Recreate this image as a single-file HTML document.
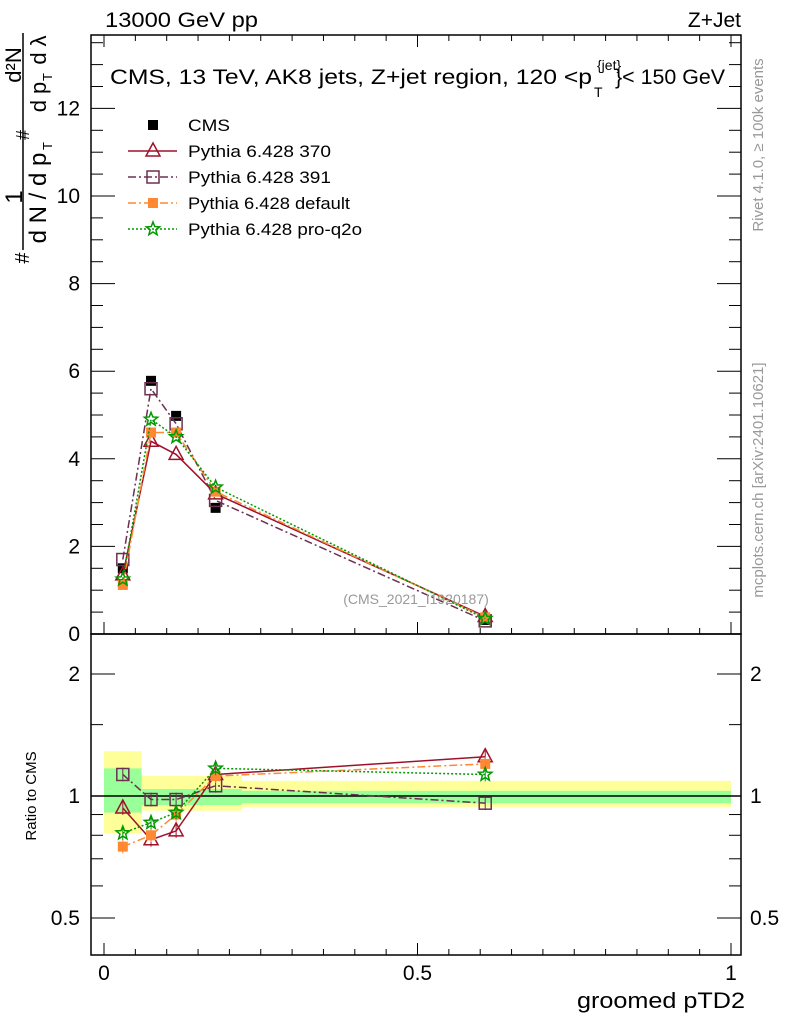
<!DOCTYPE html>
<html><head><meta charset="utf-8"><style>
body{margin:0;background:#fff;}
svg{display:block;font-family:"Liberation Sans",Arial,sans-serif;}
</style></head><body>
<svg id="c" width="786" height="1024" xmlns="http://www.w3.org/2000/svg"></svg>
<script>
const xs = [0.030, 0.075, 0.115, 0.178, 0.608];
const binEdges = [0, 0.06, 0.22, 1.0];
const statBand = [[0.91,1.17],[0.95,1.04],[0.96,1.03]];
const totBand = [[0.81,1.29],[0.92,1.12],[0.94,1.09]];
const cms = [1.5, 5.78, 4.98, 2.88, 0.32];
const p370 = [1.35, 4.4, 4.1, 3.2, 0.4];
const p391 = [1.7, 5.6, 4.8, 3.05, 0.3];
const pdef = [1.12, 4.6, 4.6, 3.25, 0.38];
const pq2o = [1.25, 4.9, 4.5, 3.35, 0.35];
const r370 = [0.934, 0.78, 0.82, 1.13, 1.25];
const r391 = [1.13, 0.98, 0.98, 1.06, 0.96];
const rdef = [0.75, 0.80, 0.90, 1.12, 1.20];
const rq2o = [0.81, 0.86, 0.91, 1.17, 1.13];
const mainTicks = [0,2,4,6,8,10,12];
const ratioTicks = [0.5,1,2];
const xTicks = [0,0.5,1];

const svg=document.getElementById('c');
const NS='http://www.w3.org/2000/svg';
function el(t,a,p){const e=document.createElementNS(NS,t);for(const k in a)e.setAttribute(k,a[k]);(p||svg).appendChild(e);return e;}
const L=91,R=741,T=35,MB=634,RB=955;
const X=v=>104+v*627;
const Y=v=>634-v*43.8;
const YR=v=>796-122*Math.log2(v);

for(let i=0;i<3;i++){
  const x0=X(binEdges[i]),x1=Math.min(X(binEdges[i+1]),X(1));
  let r=el('rect',{x:x0,y:YR(totBand[i][1]),width:x1-x0,height:YR(totBand[i][0])-YR(totBand[i][1]),fill:'#ffff99'});
  
  
  r=el('rect',{x:x0,y:YR(statBand[i][1]),width:x1-x0,height:YR(statBand[i][0])-YR(statBand[i][1]),fill:'#99ff99'});
  
  
}
el('line',{x1:L,x2:R,y1:YR(1),y2:YR(1),stroke:'#000','stroke-width':1.5});

el('rect',{x:L,y:T,width:R-L,height:MB-T,fill:'none',stroke:'#000','stroke-width':1.5});
el('rect',{x:L,y:MB,width:R-L,height:RB-MB,fill:'none',stroke:'#000','stroke-width':1.5});

for(let i=0;i<=20;i++){const v=i*0.05,x=X(v),len=i%10==0?12:6;
  el('line',{x1:x,x2:x,y1:RB,y2:RB-len,stroke:'#000'});
  el('line',{x1:x,x2:x,y1:MB,y2:MB-len,stroke:'#000'});
  el('line',{x1:x,x2:x,y1:T,y2:T+len,stroke:'#000'});
}
xTicks.forEach(v=>{const t=el('text',{x:X(v),y:980,'font-size':21,'text-anchor':'middle'});t.textContent=String(v);
  });
for(let i=0;i<=27;i++){const v=i*0.5,y=Y(v);if(y<T)continue;const len=i%4==0?24:12;
  el('line',{x1:L,x2:L+len,y1:y,y2:y,stroke:'#000'});el('line',{x1:R,x2:R-len,y1:y,y2:y,stroke:'#000'});}
mainTicks.forEach(v=>{const t=el('text',{x:80,y:Y(v)+7,'font-size':21,'text-anchor':'end'});t.textContent=String(v);
  });
[0.4,0.5,0.6,0.7,0.8,0.9,1,1.5,2].forEach(v=>{const y=YR(v);if(y>RB)return;const big=[0.5,1,2].includes(v);const len=big?24:12;
  el('line',{x1:L,x2:L+len,y1:y,y2:y,stroke:'#000'});el('line',{x1:R,x2:R-len,y1:y,y2:y,stroke:'#000'});});
ratioTicks.forEach(v=>{let t=el('text',{x:80,y:YR(v)+7,'font-size':21,'text-anchor':'end'});t.textContent=String(v);
  
  t=el('text',{x:750,y:YR(v)+7,'font-size':21});t.textContent=String(v);
  });

function marker(kind,x,y,col,g){
  if(kind=='tri')el('path',{d:`M${x},${y-8}L${x+7},${y+5}L${x-7},${y+5}Z`,fill:'none',stroke:col,'stroke-width':1.5},g);
  else if(kind=='osq')el('rect',{x:x-6,y:y-6,width:12,height:12,fill:'none',stroke:col,'stroke-width':1.5},g);
  else if(kind=='fsq')el('rect',{x:x-5,y:y-5,width:10,height:10,fill:col},g);
  else if(kind=='star'){let d='';for(let k=0;k<10;k++){const r=k%2?3:7,a=-Math.PI/2+k*Math.PI/5;d+=(k?'L':'M')+(x+r*Math.cos(a))+','+(y+r*Math.sin(a));}
    el('path',{d:d+'Z',fill:'none',stroke:col,'stroke-width':1.5},g);}
  else el('rect',{x:x-5,y:y-5,width:10,height:10,fill:col},g);
}
const series=[
 {n:'pythia-370',v:p370,r:r370,c:'#a0102a',dash:'',m:'tri'},
 {n:'pythia-391',v:p391,r:r391,c:'#6b3050',dash:'8,3,2,3',m:'osq'},
 {n:'pythia-default',v:pdef,r:rdef,c:'#ff8833',dash:'8,3,2,3',m:'fsq'},
 {n:'pythia-pro-q2o',v:pq2o,r:rq2o,c:'#009900',dash:'2,2',m:'star'}];
const gc=el('g',{});
xs.forEach((x,i)=>marker('cms',X(x),Y(cms[i]),'#000',gc));
series.forEach(s=>{
  const g=el('g',{});
  el('polyline',{points:xs.map((x,i)=>X(x)+','+Y(s.v[i])).join(' '),fill:'none',stroke:s.c,'stroke-width':1.5,'stroke-dasharray':s.dash},g);
  xs.forEach((x,i)=>marker(s.m,X(x),Y(s.v[i]),s.c,g));
  const g2=el('g',{});
  el('polyline',{points:xs.map((x,i)=>X(x)+','+YR(s.r[i])).join(' '),fill:'none',stroke:s.c,'stroke-width':1.5,'stroke-dasharray':s.dash},g2);
  xs.forEach((x,i)=>{el('line',{x1:X(x),x2:X(x),y1:YR(s.r[i]*1.04),y2:YR(s.r[i]/1.04),stroke:s.c},g2);marker(s.m,X(x),YR(s.r[i]),s.c,g2);});
});

const leg=[['CMS','cms','#000',''],['Pythia 6.428 370','tri','#a0102a',''],['Pythia 6.428 391','osq','#6b3050','8,3,2,3'],['Pythia 6.428 default','fsq','#ff8833','8,3,2,3'],['Pythia 6.428 pro-q2o','star','#009900','2,2']];
leg.forEach((l,i)=>{const y=125+i*26;const g=el('g',{});
  if(i>0)el('line',{x1:128,x2:177,y1:y,y2:y,stroke:l[2],'stroke-width':1.5,'stroke-dasharray':l[3]},g);
  marker(l[1],153,y,l[2],g);
  const t=el('text',{x:188,y:y+6,'font-size':17,textLength:[42,143,143,162,174][i],lengthAdjust:'spacingAndGlyphs'},g);t.textContent=l[0];});

function txt(s,a,name){const t=el('text',a);t.textContent=s;return t;}
txt('13000 GeV pp',{x:105,y:27,'font-size':21,textLength:153,lengthAdjust:'spacingAndGlyphs'},'header-left');
txt('Z+Jet',{x:741,y:27,'font-size':21,'text-anchor':'end'},'header-right');
const tg=el('g',{});
let t1=el('text',{x:110,y:84,'font-size':21,textLength:482,lengthAdjust:'spacingAndGlyphs'},tg);t1.textContent='CMS, 13 TeV, AK8 jets, Z+jet region, 120 <p';
t1=el('text',{x:597,y:70,'font-size':14},tg);t1.textContent='{jet}';
t1=el('text',{x:594,y:97,'font-size':14},tg);t1.textContent='T';
t1=el('text',{x:615,y:84,'font-size':21,textLength:110,lengthAdjust:'spacingAndGlyphs'},tg);t1.textContent='}< 150 GeV';
txt('(CMS_2021_I1920187)',{x:416,y:604,'font-size':14,fill:'#999','text-anchor':'middle'},'analysis-id');
txt('groomed pTD2',{x:745,y:1008,'font-size':22,'text-anchor':'end',textLength:168,lengthAdjust:'spacingAndGlyphs'},'x-axis-title');
txt('Ratio to CMS',{x:0,y:0,'font-size':15,'text-anchor':'middle',transform:'translate(36,796) rotate(-90)'},'ratio-axis-title');
txt('Rivet 4.1.0, ≥ 100k events',{x:0,y:0,'font-size':15,fill:'#999','text-anchor':'middle',transform:'translate(763,145) rotate(-90)'},'rivet-label');
txt('mcplots.cern.ch [arXiv:2401.10621]',{x:0,y:0,'font-size':15,fill:'#999','text-anchor':'middle',transform:'translate(763,480) rotate(-90)'},'mcplots-label');
const yg=el('g',{});
function rt(s,x,y,fs){const t=el('text',{x:0,y:0,'font-size':fs,'text-anchor':'middle',transform:`translate(${x},${y}) rotate(-90)`},yg);t.textContent=s;}
el('line',{x1:23,x2:23,y1:33,y2:250,stroke:'#000','stroke-width':1.5},yg);
rt('1',22,197,24);
rt('#',29,258,20);
rt('d N / d p',46,198,24);
rt('T',52,146,13);
rt('#',29,135,18);
rt('d²N',21,65,22);
rt('d p',46,97,22);
rt('T',52,77,13);
rt('d λ',46,50,22);
</script>
</body></html>
